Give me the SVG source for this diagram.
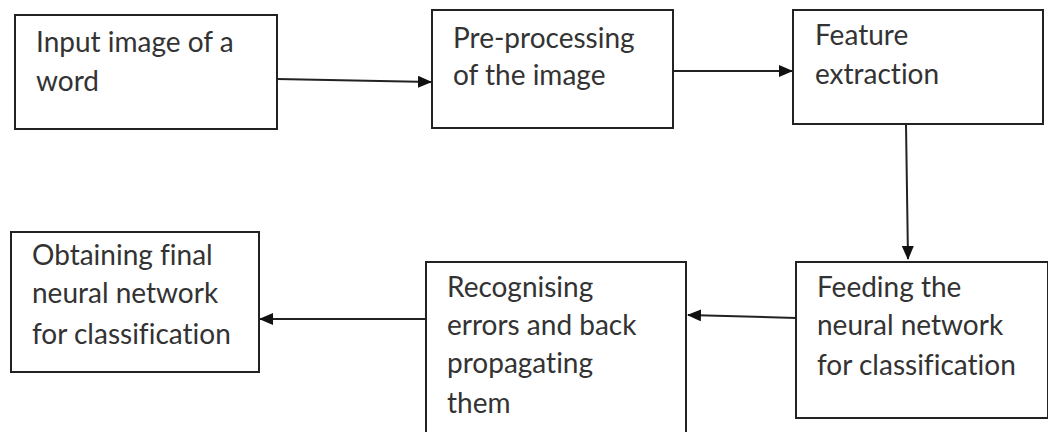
<svg xmlns="http://www.w3.org/2000/svg" width="1048" height="432" viewBox="0 0 1048 432">
<style>
.box{fill:#fff;stroke:#222;stroke-width:2}
.t{font-family:Lato,"Open Sans",sans-serif;font-size:28px;fill:#333;font-variant-ligatures:none}
.c{fill:none;stroke:#222;stroke-width:2}
</style>
<defs>
<marker id="ah" markerWidth="14" markerHeight="12" refX="13" refY="6" orient="auto" markerUnits="userSpaceOnUse">
<path d="M0,0 L14,6 L0,12 Z" fill="#111"/>
</marker>
</defs>
<rect width="1048" height="432" fill="#fff"/>
<g id="connectors">
<line class="c" x1="277" y1="79" x2="431" y2="82" marker-end="url(#ah)"/>
<line class="c" x1="673" y1="71" x2="792" y2="71" marker-end="url(#ah)"/>
<line class="c" x1="906" y1="124" x2="908" y2="259" marker-end="url(#ah)"/>
<line class="c" x1="796" y1="318" x2="688" y2="315" marker-end="url(#ah)"/>
<line class="c" x1="426" y1="319" x2="260" y2="319" marker-end="url(#ah)"/>
</g>
<g id="n1">
<rect class="box" x="15" y="15" width="262" height="114"/>
<text class="t" x="36" y="52">Input image of a</text>
<text class="t" x="36" y="91">word</text>
</g>
<g id="n2">
<rect class="box" x="432" y="10" width="241" height="118"/>
<text class="t" x="453" y="48">Pre-processing</text>
<text class="t" x="453" y="85">of the image</text>
</g>
<g id="n3">
<rect class="box" x="793" y="10" width="250" height="114"/>
<text class="t" x="815" y="45">Feature</text>
<text class="t" x="815" y="84">extraction</text>
</g>
<g id="n4">
<rect class="box" x="796" y="262" width="252" height="156"/>
<text class="t" x="817" y="297">Feeding the</text>
<text class="t" x="817" y="335">neural network</text>
<text class="t" x="817" y="375">for classification</text>
</g>
<g id="n5">
<rect class="box" x="426" y="262" width="260" height="180"/>
<text class="t" x="447" y="297">Recognising</text>
<text class="t" x="447" y="335">errors and back</text>
<text class="t" x="447" y="373">propagating</text>
<text class="t" x="447" y="413">them</text>
</g>
<g id="n6">
<rect class="box" x="11" y="232" width="248" height="140"/>
<text class="t" x="32" y="265">Obtaining final</text>
<text class="t" x="32" y="303">neural network</text>
<text class="t" x="32" y="344">for classification</text>
</g>
</svg>
